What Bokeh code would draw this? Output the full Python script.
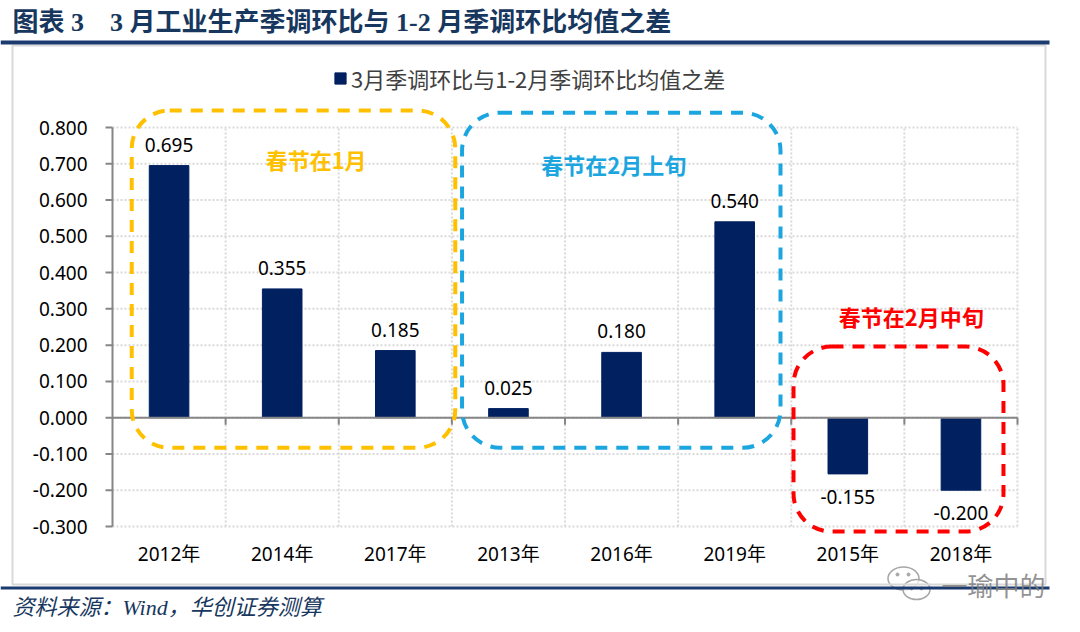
from bokeh.plotting import figure
from bokeh.models import Range1d, Label, BoxAnnotation, Legend, LegendItem, ColumnDataSource
from bokeh.core.properties import value
from bokeh.embed import file_html
from bokeh.resources import INLINE

# ---------------- data ----------------
years = ["2012年", "2014年", "2017年", "2013年", "2016年", "2019年", "2015年", "2018年"]
diffs = [0.695, 0.355, 0.185, 0.025, 0.180, 0.540, -0.155, -0.200]
series_name = "3月季调环比与1-2月季调环比均值之差"
group_names = ["春节在1月", "春节在2月上旬", "春节在2月中旬"]
y_ticks = [-0.3, -0.2, -0.1, 0.0, 0.1, 0.2, 0.3, 0.4, 0.5, 0.6, 0.7, 0.8]
title_text = "图表 3\u00a0\u00a0\u00a0\u00a03 月工业生产季调环比与 1-2 月季调环比均值之差"
source_text = "资料来源：Wind，华创证券测算"
watermark_text = "一瑜中的"

# ---------------- styles / layout ----------------
W, H = 1076, 628
NAVY = "#002060"
GRID = "#D9D9D9"
AXIS = "#868686"
HEAD = "#17375E"
RULE = "#1B3A6F"
NUM_FONT = "Noto Sans, Noto Sans CJK SC"
group_colors = ["#FFC000", "#1CA6E0", "#FF0000"]
# pixel placement of the value area (category 0..n, value y_min..y_max)
PX_L, PX_R, PY_T, PY_B = 112, 1017, 127, 526

n = len(years)
y_min, y_max = y_ticks[0], y_ticks[-1]
kx = (PX_R - PX_L) / n                 # px per category
ky = (PY_B - PY_T) / (y_max - y_min)   # px per value unit

def dx(px):   # canvas pixel -> category units
    return (px - PX_L) / kx

def dy(py):   # canvas pixel -> value units
    return y_max - (py - PY_T) / ky

# dashed frames (left, right, top, bottom) in category / value units
box_layout = [(0.17, 3.03, 0.847, -0.083), (3.09, 5.905, 0.841, -0.083), (6.02, 7.876, 0.196, -0.314)]
group_text_pos = [(1.80, 0.714), (4.43, 0.700), (7.06, 0.279)]

p = figure(width=W, height=H,
           x_range=Range1d(dx(0), dx(W)), y_range=Range1d(dy(H), dy(0)),
           output_backend="svg", toolbar_location=None,
           x_axis_location=None, y_axis_location=None, min_border=0)
p.outline_line_color = None
p.grid.visible = False
p.background_fill_color = "white"
p.border_fill_color = "white"

centers = [i + 0.5 for i in range(n)]
bounds = list(range(n + 1))

# dotted grid
p.segment(x0=[0] * len(y_ticks), x1=[n] * len(y_ticks), y0=y_ticks, y1=y_ticks,
          line_color=GRID, line_width=2, line_dash="2 2")
p.segment(x0=bounds[1:], x1=bounds[1:], y0=[y_min] * n, y1=[y_max] * n,
          line_color=GRID, line_width=2, line_dash="2 2")

# bars
src = ColumnDataSource(dict(x=centers, top=diffs, year=years,
                            label=[f"{v:.3f}" for v in diffs],
                            yoff=[-21 if v >= 0 else 23 for v in diffs]))
bars = p.vbar(x="x", top="top", bottom=0, width=0.35, source=src,
              fill_color=NAVY, line_color=NAVY)

# value axis (left)
p.segment(x0=[0], x1=[0], y0=[y_min], y1=[y_max], line_color=AXIS, line_width=2)
p.segment(x0=[0] * len(y_ticks), x1=[-7 / kx] * len(y_ticks), y0=y_ticks, y1=y_ticks,
          line_color=AXIS, line_width=2)
p.text(x=[0] * len(y_ticks), y=y_ticks, text=[f"{t:.3f}" for t in y_ticks], x_offset=-25,
       text_align="right", text_baseline="middle",
       text_font=value(NUM_FONT), text_font_size="19px", text_color="black")

# category axis at zero with boundary ticks, labels below the value area
p.segment(x0=[0], x1=[n], y0=[0], y1=[0], line_color=AXIS, line_width=2)
p.segment(x0=bounds[1:], x1=bounds[1:], y0=[0] * n, y1=[-7 / ky] * n,
          line_color=AXIS, line_width=2)
p.text(x=centers, y=[y_min] * n, text=years, y_offset=27,
       text_align="center", text_baseline="middle",
       text_font=value(NUM_FONT), text_font_size="19px", text_color="black")

# value labels
p.text(x="x", y="top", text="label", source=src, y_offset="yoff",
       text_align="center", text_baseline="middle",
       text_font=value(NUM_FONT), text_font_size="19px", text_color="black")

# dashed rounded group frames and captions
for (l, r, t, b), col, name, (tx, ty) in zip(box_layout, group_colors, group_names, group_text_pos):
    p.add_layout(BoxAnnotation(left=l, right=r, top=t, bottom=b, fill_alpha=0,
                               line_color=col, line_alpha=1, line_width=4, line_dash="12 9",
                               border_radius=38))
    p.add_layout(Label(x=tx, y=ty, text=name, text_align="center", text_baseline="middle",
                       text_font="Noto Sans CJK SC", text_font_style="bold",
                       text_font_size="22px", text_color=col))

# legend
legend = Legend(items=[LegendItem(label=series_name, renderers=[bars])],
                location=(333, H - 94), padding=0, margin=0, spacing=0,
                glyph_width=14, glyph_height=14, label_standoff=4, label_height=24,
                label_text_font="Noto Sans CJK SC", label_text_font_size="22px",
                label_text_color="#404040", label_text_baseline="middle",
                border_line_color=None, background_fill_alpha=0)
p.add_layout(legend)

# page furniture (screen units: frame == whole canvas)
def sbox(**kw):
    return BoxAnnotation(left_units="screen", right_units="screen",
                         top_units="screen", bottom_units="screen", **kw)

p.add_layout(sbox(left=12, right=1045, top=H - 45, bottom=H - 584, fill_alpha=0,
                  line_color=GRID, line_alpha=1, line_width=2))
p.add_layout(sbox(left=0, right=1049, top=H - 40, bottom=H - 44, fill_color=RULE,
                  fill_alpha=1, line_color=None))
p.add_layout(sbox(left=0, right=1049, top=H - 586, bottom=H - 589, fill_color=RULE,
                  fill_alpha=1, line_color=None))
p.add_layout(Label(x=12, y=H - 22, x_units="screen", y_units="screen", text=title_text,
                   text_baseline="middle", text_font="Liberation Serif, Noto Sans CJK SC",
                   text_font_style="bold", text_font_size="26px", text_color=HEAD))
p.add_layout(Label(x=12, y=H - 607, x_units="screen", y_units="screen", text=source_text,
                   text_baseline="middle", text_font="Liberation Serif, Noto Sans CJK SC",
                   text_font_style="italic", text_font_size="22px", text_color=HEAD))

# watermark: chat-bubble icon + text
p.ellipse(x=[dx(903), dx(916)], y=[dy(578), dy(589)], width=[31, 27], height=[23, 20],
          width_units="screen", height_units="screen",
          fill_color="white", fill_alpha=0.7, line_color="#A6A6A6", line_width=1.5)
p.scatter(x=[dx(897), dx(908), dx(911), dx(921)], y=[dy(574), dy(574), dy(588), dy(588)],
          size=3, color="#A6A6A6")
p.add_layout(Label(x=1045, y=H - 584, x_units="screen", y_units="screen", text=watermark_text,
                   text_align="right", text_baseline="middle", text_font="Noto Sans CJK SC",
                   text_font_size="26px", text_color="#7F7F7F", text_alpha=0.85))

open("out.html", "w").write(file_html(p, INLINE))
